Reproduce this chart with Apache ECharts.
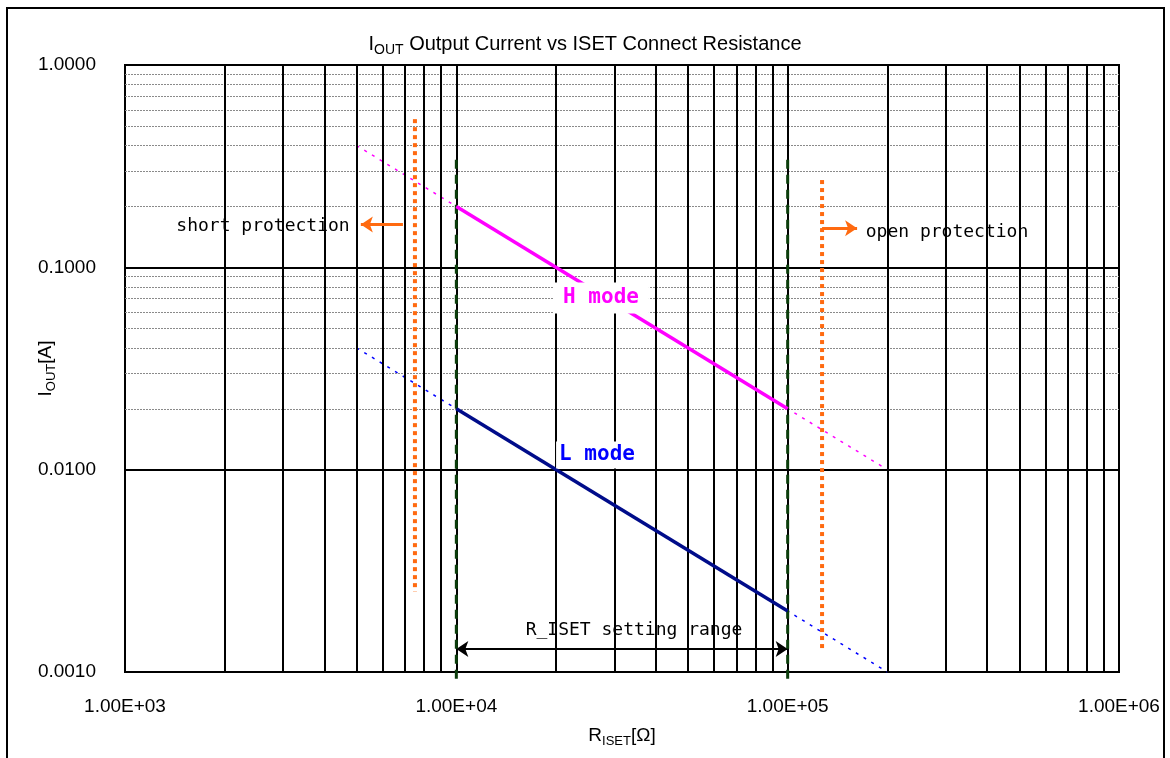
<!DOCTYPE html>
<html><head><meta charset="utf-8">
<script src="https://cdn.jsdelivr.net/npm/echarts@6/dist/echarts.min.js"></script>
<style>html,body{margin:0;padding:0;background:#fff}#c{width:1170px;height:758px}</style>
</head><body><div id="c"></div>
<script>
// ---- data ----
const xRange = [1e3, 1e6];
const yRange = [0.001, 1];
const hSolid = [[1e4, 0.2], [1e5, 0.02]];
const hDotted = [[5e3, 0.4], [2e5, 0.01]];
const lSolid = [[1e4, 0.02], [1e5, 0.002]];
const lDotted = [[5e3, 0.04], [2e5, 0.001]];
const rangeLow = [[1e4, 0.34], [1e4, 0.00091]];
const rangeHigh = [[1e5, 0.34], [1e5, 0.00091]];
const shortProt = [[7.5e3, 0.54], [7.5e3, 0.0025]];
const openProt = [[1.27e5, 0.27], [1.27e5, 0.0013]];
const shortArrow = [[6900, 0.163], [5150, 0.163]];
const openArrow = [[1.27e5, 0.156], [1.62e5, 0.156]];
const rangeArrow = [[1e4, 0.0013], [1e5, 0.0013]];
const mults = [2, 3, 4, 5, 6, 7, 8, 9];
const xDecades = [1e3, 1e4, 1e5];
const yDecades = [1e-3, 1e-2, 1e-1];
const xMajorGrid = [1e4, 1e5];
const yMajorGrid = [0.01, 0.1];
const xMinorGrid = [];
xDecades.forEach(d => mults.forEach(m => xMinorGrid.push(m * d)));
const yMinorGrid = [];
yDecades.forEach(d => mults.forEach(m => yMinorGrid.push(+(m * d).toPrecision(3))));

const chart = echarts.init(document.getElementById('c'));
const F = '"Liberation Sans", Arial, sans-serif';
const M = '"DejaVu Sans Mono", "Liberation Mono", monospace';

function ml(data, color, width, type, symbol, z) {
  return {
    type: 'line', data: [], z: z, silent: true, animation: false,
    markLine: {
      silent: true, animation: false, symbol: symbol || ['none', 'none'], symbolSize: [12, 12],
      label: { show: false }, lineStyle: { color: color, width: width, type: type },
      data: data
    }
  };
}
function seg(data, color, width, type, z, clip) {
  return {
    type: 'line', data: data, showSymbol: false, symbol: 'none', z: z, silent: true,
    animation: false, clip: clip !== false,
    lineStyle: { color: color, width: width, type: type }
  };
}
const sub = (big, small) => ({
  a: { fontFamily: F, fontSize: big, fontWeight: 'normal', color: '#000', verticalAlign: 'bottom', lineHeight: big + 4 },
  b: { fontFamily: F, fontSize: small, fontWeight: 'normal', color: '#000', verticalAlign: 'bottom', lineHeight: big + 4, padding: [0, 0, -3, 0] }
});

const option = {
  animation: false,
  backgroundColor: '#fff',
  title: {
    text: '{a|I}{b|OUT}{a| Output Current vs ISET Connect Resistance}',
    left: 'center', top: 25,
    textStyle: { fontWeight: 'normal', rich: sub(20, 14) }
  },
  grid: { left: 125, right: 51, top: 65, bottom: 86, show: true, borderColor: '#000', borderWidth: 2,
    backgroundColor: 'transparent', containLabel: false, outerBoundsMode: 'none' },
  xAxis: {
    type: 'log', min: xRange[0], max: xRange[1], logBase: 10,
    name: '{a|R}{b|ISET}{a|[Ω]}', nameLocation: 'middle', nameGap: 50, nameMoveOverlap: false,
    nameTextStyle: { rich: sub(19, 13) },
    axisLine: { show: false }, axisTick: { show: false },
    axisLabel: { fontFamily: F, fontSize: 19, color: '#000', margin: 25,
      formatter: v => { const e = Math.round(Math.log10(v)); return '1.00E+' + (e < 10 ? '0' + e : e); } },
    splitLine: { show: false }
  },
  yAxis: {
    type: 'log', min: yRange[0], max: yRange[1], logBase: 10,
    name: '{a|I}{b|OUT}{a|[A]}', nameLocation: 'middle', nameGap: 70, nameRotate: 90, nameMoveOverlap: false,
    nameTextStyle: { rich: sub(19, 13) },
    axisLine: { show: false }, axisTick: { show: false },
    axisLabel: { fontFamily: F, fontSize: 19, color: '#000', margin: 29, formatter: v => v.toFixed(4) },
    splitLine: { show: false }
  },
  series: [
    ml(yMinorGrid.map(v => ({ yAxis: v })), '#8a8a8a', 1, [2, 1], null, 1),
    ml(xMinorGrid.map(v => ({ xAxis: v })), '#000', 2, 'solid', null, 2),
    ml(yMajorGrid.map(v => ({ yAxis: v })), '#000', 2, 'solid', null, 2),
    ml(xMajorGrid.map(v => ({ xAxis: v })), '#000', 2, 'solid', null, 2),
    seg(hDotted, '#FF00FF', 1.5, [3, 6], 4),
    seg(lDotted, '#0000FF', 1.5, [3, 6], 4),
    seg(rangeLow, '#0B3D0B', 3, [9, 6], 5, false),
    seg(rangeHigh, '#0B3D0B', 3, [9, 6], 5, false),
    seg(shortProt, '#FF6A10', 4, [4, 4], 5),
    seg(openProt, '#FF6A10', 4, [4, 4], 5),
    seg(hSolid, '#FF00FF', 3.5, 'solid', 6),
    seg(lSolid, '#000C8A', 3.5, 'solid', 6),
    ml([[{ coord: shortArrow[0] }, { coord: shortArrow[1] }]], '#FF6A10', 3, 'solid', ['none', 'arrow'], 7),
    ml([[{ coord: openArrow[0] }, { coord: openArrow[1] }]], '#FF6A10', 3, 'solid', ['none', 'arrow'], 7),
    ml([[{ coord: rangeArrow[0] }, { coord: rangeArrow[1] }]], '#000', 2, 'solid', ['arrow', 'arrow'], 7)
  ],
  graphic: [
    { type: 'rect', shape: { x: 7, y: 8, width: 1157, height: 800 }, style: { fill: 'none', stroke: '#000', lineWidth: 2 }, z: 100, silent: true },
    { type: 'text', x: 263, y: 226, style: { text: 'short protection', font: '18px ' + M, fill: '#000', align: 'center', verticalAlign: 'middle' }, z: 100 },
    { type: 'text', x: 947, y: 232, style: { text: 'open protection', font: '18px ' + M, fill: '#000', align: 'center', verticalAlign: 'middle' }, z: 100 },
    { type: 'text', x: 634, y: 630, style: { text: 'R_ISET setting range', font: '18px ' + M, fill: '#000', align: 'center', verticalAlign: 'middle' }, z: 100 },
    { type: 'text', x: 601, y: 298, style: { text: 'H mode', font: 'bold 21px ' + M, fill: '#FF00FF', align: 'center', verticalAlign: 'middle', backgroundColor: '#fff', padding: [5, 10, 5, 10] }, z: 100 },
    { type: 'text', x: 597, y: 455, style: { text: 'L mode', font: 'bold 21px ' + M, fill: '#0000FF', align: 'center', verticalAlign: 'middle', backgroundColor: '#fff', padding: [3, 3, 3, 3] }, z: 100 }
  ]
};
chart.setOption(option);
</script></body></html>
